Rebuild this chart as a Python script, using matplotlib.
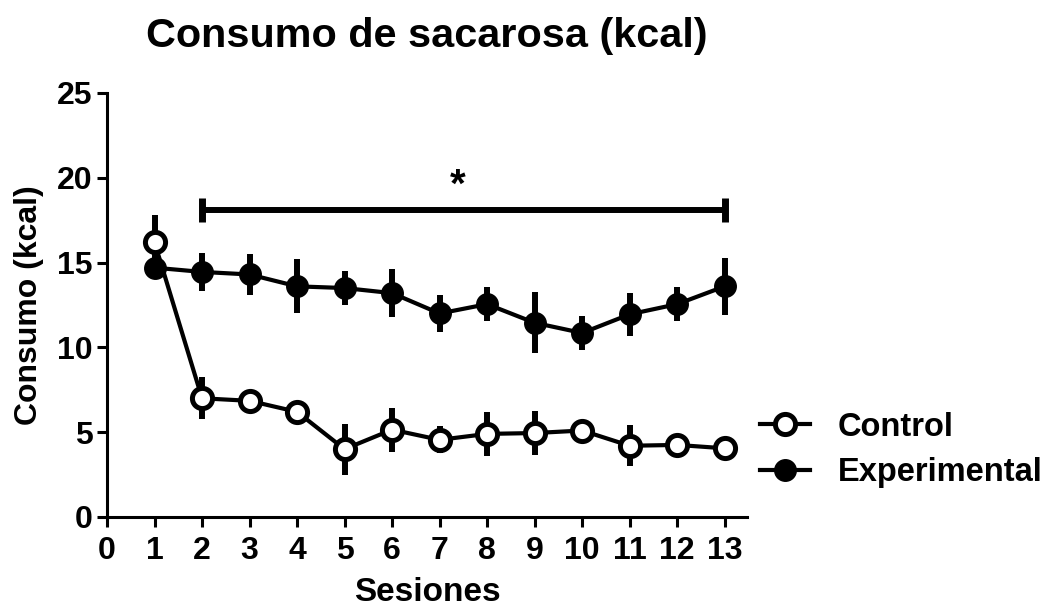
import matplotlib
matplotlib.use("Agg")
import matplotlib.pyplot as plt

plt.rcParams['font.family'] = ['Liberation Sans', 'DejaVu Sans']
plt.rcParams['font.weight'] = 'bold'

# Sessions and mean intake (kcal) with SEM for each group
sessions = [1, 2, 3, 4, 5, 6, 7, 8, 9, 10, 11, 12, 13]
control_mean = [16.2, 7.0, 6.85, 6.2, 4.0, 5.15, 4.55, 4.9, 4.95, 5.1, 4.2, 4.25, 4.05]
control_sem = [1.6, 1.25, 0.3, 0.4, 1.5, 1.3, 0.8, 1.3, 1.3, 0.5, 1.2, 0.4, 0.4]
experimental_mean = [14.7, 14.45, 14.3, 13.6, 13.5, 13.2, 12.0, 12.55, 11.45, 10.85, 11.95, 12.55, 13.6]
experimental_sem = [0.4, 1.1, 1.2, 1.6, 1.0, 1.4, 1.1, 1.0, 1.8, 1.0, 1.25, 1.0, 1.7]

# Significance bracket spanning sessions 2-13
sig_start, sig_end, sig_level = 2, 13, 18.1
sig_label = "*"

x_ticks = list(range(0, 14))
y_ticks = [0, 5, 10, 15, 20, 25]

fig = plt.figure(figsize=(10.51, 6.11), dpi=100)
ax = fig.add_axes([107 / 1051, 94 / 611, 640 / 1051, 424 / 611])

lw_axis = 2.2
fs = 23

# error bars beneath the lines and markers
ax.errorbar(sessions, experimental_mean, yerr=experimental_sem, fmt='none',
            ecolor='black', elinewidth=4.3, capsize=0, zorder=2)
ax.errorbar(sessions, control_mean, yerr=control_sem, fmt='none',
            ecolor='black', elinewidth=4.3, capsize=0, zorder=2)

ax.plot(sessions, experimental_mean, '-o', color='black', lw=3,
        markersize=15.5, markerfacecolor='black', markeredgecolor='black',
        markeredgewidth=1, zorder=3, label='Experimental', clip_on=False)
ax.plot(sessions, control_mean, '-o', color='black', lw=3,
        markersize=14.5, markerfacecolor='white', markeredgecolor='black',
        markeredgewidth=3.6, zorder=4, label='Control', clip_on=False)

# significance bracket
ax.plot([sig_start, sig_end], [sig_level, sig_level], color='black', lw=4.3,
        solid_capstyle='butt', zorder=3)
for xe in (sig_start, sig_end):
    ax.plot([xe, xe], [sig_level - 0.68, sig_level + 0.68], color='black', lw=5,
            solid_capstyle='butt', zorder=3)
ax.text((sig_start + sig_end) / 2 - 0.12, sig_level + 0.3, sig_label,
        ha='center', va='bottom', fontsize=29, fontweight='bold')

ax.set_xlim(0, 13.47)
ax.set_ylim(0, 25)
ax.set_xticks(x_ticks)
ax.set_yticks(y_ticks)
ax.tick_params(axis='both', direction='out', length=7, width=lw_axis,
               labelsize=fs)
ax.tick_params(axis='x', pad=6.5)
ax.tick_params(axis='y', pad=3.5)
for lab in ax.get_xticklabels() + ax.get_yticklabels():
    lab.set_fontweight('bold')

for side in ('top', 'right'):
    ax.spines[side].set_visible(False)
for side in ('left', 'bottom'):
    ax.spines[side].set_linewidth(lw_axis)

ax.set_xlabel('Sesiones', fontsize=24, fontweight='bold', labelpad=8)
ax.set_ylabel('Consumo (kcal)', fontsize=23, fontweight='bold', labelpad=9)
ax.set_title('Consumo de sacarosa (kcal)', fontsize=29.8, fontweight='bold', pad=33)

handles, labels = ax.get_legend_handles_labels()
order = [labels.index('Control'), labels.index('Experimental')]
ax.legend([handles[i] for i in order], [labels[i] for i in order],
          loc='center left', bbox_to_anchor=(1.02, 0.158), frameon=False,
          fontsize=23.5, handlelength=1.53, handletextpad=0.86,
          labelspacing=0.45, borderaxespad=0, borderpad=0)

fig.savefig('out.png', dpi=100)
